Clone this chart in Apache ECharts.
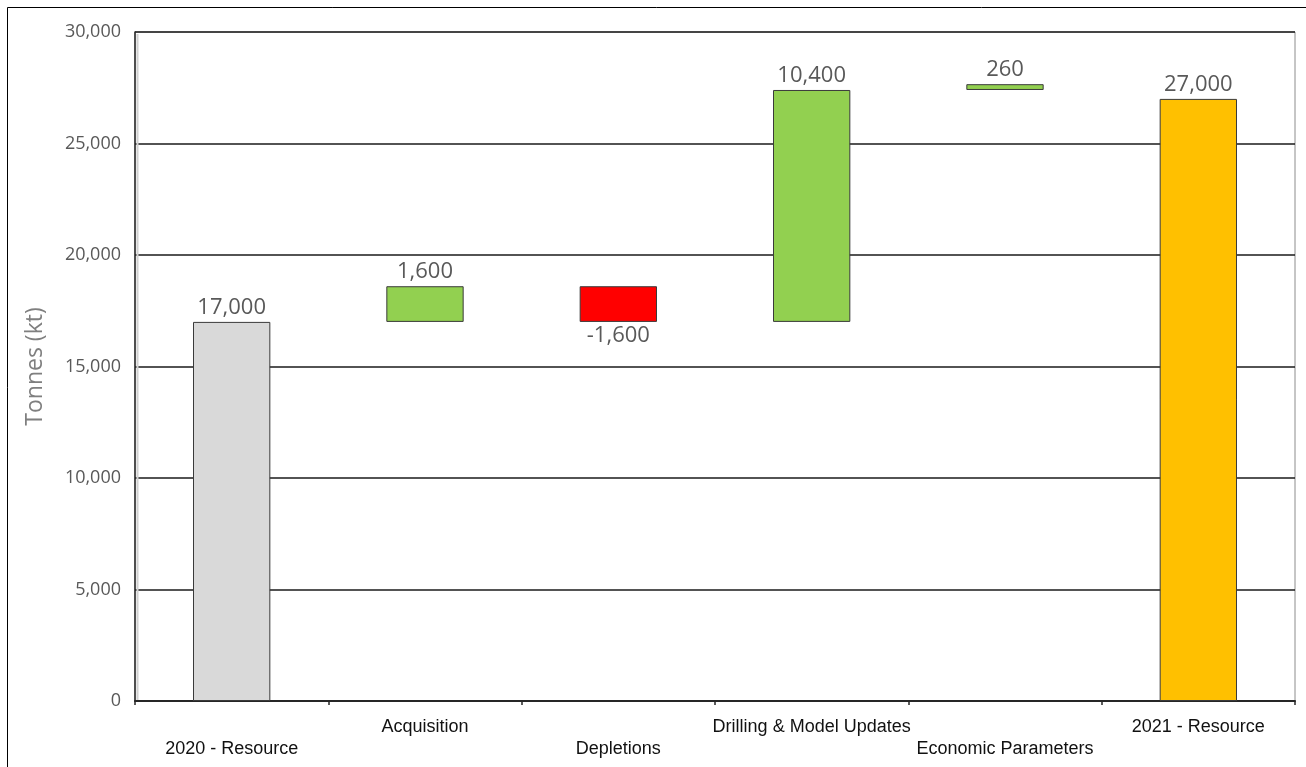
<!DOCTYPE html>
<html>
<head>
<meta charset="utf-8">
<title>Resource reconciliation 2020 to 2021</title>
<script src="https://cdn.jsdelivr.net/npm/echarts@6/dist/echarts.min.js"></script>
<style>
  html, body { margin: 0; padding: 0; background: #ffffff; }
  #chart { width: 1306px; height: 767px; }
</style>
</head>
<body>
<div id="chart"></div>
<script>
// Waterfall steps (kt)
const categories = ['2020 - Resource', 'Acquisition', 'Depletions', 'Drilling & Model Updates', 'Economic Parameters', '2021 - Resource'];
const changes = [17000, 1600, -1600, 10400, 260, 27000];
const bases = [0, 17000, 17000, 17000, 27400, 0];
const barColors = ['#d9d9d9', '#92d050', '#ff0000', '#92d050', '#92d050', '#ffc000'];
const yTicks = [0, 5000, 10000, 15000, 20000, 25000, 30000];

const fmt = v => v.toLocaleString('en-US');

const stepData = changes.map((v, i) => ({
  value: Math.abs(v),
  itemStyle: { color: barColors[i] },
  label: {
    position: v < 0 ? 'bottom' : 'top',
    formatter: () => fmt(v)
  }
}));

const chart = echarts.init(document.getElementById('chart'), null, { renderer: 'canvas' });

chart.setOption({
  animation: false,
  backgroundColor: '#ffffff',
  grid: {
    left: 135, right: 11, top: 32, bottom: 66,
    show: true, borderColor: '#8c8c8c', borderWidth: 1, backgroundColor: 'transparent'
  },
  graphic: [
    { type: 'line', shape: { x1: 7.5, y1: 7.5, x2: 1306, y2: 7.5 }, style: { stroke: '#000', lineWidth: 1 } },
    { type: 'line', shape: { x1: 7.5, y1: 7.5, x2: 7.5, y2: 767 }, style: { stroke: '#000', lineWidth: 1 } },
    { type: 'line', shape: { x1: 137.5, y1: 34, x2: 137.5, y2: 700 }, style: { stroke: '#d0d0d0', lineWidth: 2 }, z: 1 }
  ],
  xAxis: {
    type: 'category',
    data: categories,
    axisLine: { show: true, lineStyle: { color: '#262626', width: 2 } },
    axisTick: { show: true, length: 4, lineStyle: { color: '#262626', width: 1.5 } },
    axisLabel: {
      interval: 0,
      margin: 17,
      fontFamily: 'Liberation Sans',
      fontSize: 18,
      color: '#111',
      formatter: (v, i) => (i % 2 === 0 ? '{lo|' + v + '}' : '{hi|' + v + '}'),
      rich: {
        hi: { fontFamily: 'Liberation Sans', fontSize: 18, color: '#111', padding: [0, 0, 22, 0] },
        lo: { fontFamily: 'Liberation Sans', fontSize: 18, color: '#111', padding: [22, 0, 0, 0] }
      }
    }
  },
  yAxis: {
    type: 'value',
    min: yTicks[0],
    max: yTicks[yTicks.length - 1],
    interval: yTicks[1] - yTicks[0],
    name: 'Tonnes (kt)',
    nameLocation: 'middle',
    nameGap: 88,
    nameRotate: 90,
    nameTextStyle: { fontFamily: 'Open Sans', fontSize: 23, color: '#7f7f7f' },
    axisLine: { show: true, lineStyle: { color: '#262626', width: 1.5 } },
    axisTick: { show: false },
    axisLabel: {
      margin: 14,
      fontFamily: 'Open Sans',
      fontSize: 18,
      color: '#595959',
      formatter: v => fmt(v)
    },
    splitLine: { show: true, lineStyle: { color: '#1a1a1a', width: 1.5 } }
  },
  series: [
    {
      type: 'bar',
      stack: 'wf',
      barWidth: '40%',
      silent: true,
      itemStyle: { color: 'transparent', borderColor: 'transparent' },
      data: bases
    },
    {
      type: 'bar',
      stack: 'wf',
      barWidth: '40%',
      itemStyle: { borderColor: '#3a3a3a', borderWidth: 1 },
      label: {
        show: true,
        distance: 3,
        fontFamily: 'Open Sans',
        fontSize: 22,
        color: '#595959'
      },
      data: stepData
    }
  ]
});
</script>
</body>
</html>
